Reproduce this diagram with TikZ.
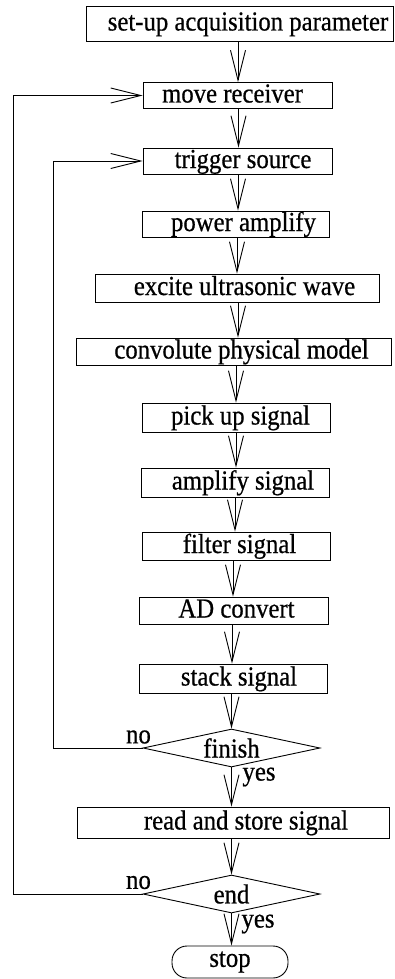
\documentclass[tikz,border=0pt]{standalone}
\usepackage{fontspec}
\setmainfont{Liberation Serif}[FakeStretch=0.9,FakeBold=0.6]
\usetikzlibrary{arrows.meta,shapes.geometric}
\newcommand\tsh[2]{\hspace*{#1}#2\hspace*{-#1}}
\begin{document}
\begin{tikzpicture}[x=1pt,y=-1pt,line width=0.9pt,
  every node/.style={font=\fontsize{27.5}{32}\selectfont},
  box/.style={draw,rectangle,inner sep=0pt,text height=20pt,text depth=6pt},
  dec/.style={draw,diamond,aspect=4.66,inner sep=0pt,minimum width=177pt,minimum height=38pt},
  term/.style={draw,rectangle,rounded corners=15pt,inner sep=0pt,minimum width=116pt,minimum height=32pt},
  arr/.style={-{Straight Barb[length=30pt,width=15pt]}},
  lbl/.style={inner sep=0pt}]
\useasboundingbox (0,0) rectangle (394,979);
\node[box,minimum width=307pt,minimum height=35pt] (setup) at (239.5,23.5) {\tsh{8.5pt}{set-up acquisition parameter}};
\node[box,minimum width=189pt,minimum height=25pt] (move) at (237.5,95.5) {\tsh{-5pt}{move receiver}};
\node[box,minimum width=189pt,minimum height=26pt] (trigger) at (237.5,161) {\tsh{5.5pt}{trigger source}};
\node[box,minimum width=187pt,minimum height=26pt] (power) at (235.5,224) {\tsh{8pt}{power amplify}};
\node[box,minimum width=284pt,minimum height=28pt] (excite) at (237,288) {\tsh{7.5pt}{excite ultrasonic wave}};
\node[box,minimum width=315pt,minimum height=27pt] (conv) at (233.5,351.5) {\tsh{8pt}{convolute physical model}};
\node[box,minimum width=188pt,minimum height=29pt] (pick) at (236,417.5) {\tsh{4.5pt}{pick up signal}};
\node[box,minimum width=188pt,minimum height=29pt] (ampl) at (235,482.5) {\tsh{8pt}{amplify signal}};
\node[box,minimum width=188pt,minimum height=28pt] (filter) at (236,546) {\tsh{3.5pt}{filter signal}};
\node[box,minimum width=189pt,minimum height=27pt] (ad) at (233.5,610.5) {\tsh{3pt}{AD convert}};
\node[box,minimum width=188pt,minimum height=29pt] (stack) at (233,678.5) {\tsh{6pt}{stack signal}};
\node[dec] (finish) at (231.5,748) {finish};
\node[box,minimum width=312pt,minimum height=31pt] (read) at (233,822.5) {\tsh{13pt}{read and store signal}};
\node[dec] (end) at (231.5,894) {end};
\node[term] (stop) at (230,962) {stop};
\node[lbl] (no1) at (138.5,737) {no};
\node[lbl] (yes1) at (259,777) {yes};
\node[lbl] (no2) at (138.5,882.5) {no};
\node[lbl] (yes2) at (258,924) {yes};
\draw[arr] (setup.south -| 238,0) -- (move.north -| 238,0);
\draw[arr] (move.south -| 238.5,0) -- (trigger.north -| 238.5,0);
\draw[arr] (trigger.south -| 238,0) -- (power.north -| 238,0);
\draw[arr] (power.south -| 237,0) -- (excite.north -| 237,0);
\draw[arr] (excite.south -| 238,0) -- (conv.north -| 238,0);
\draw[arr] (conv.south -| 236,0) -- (pick.north -| 236,0);
\draw[arr] (pick.south -| 236,0) -- (ampl.north -| 236,0);
\draw[arr] (ampl.south -| 235,0) -- (filter.north -| 235,0);
\draw[arr] (filter.south -| 233,0) -- (ad.north -| 233,0);
\draw[arr] (ad.south -| 232,0) -- (stack.north -| 232,0);
\draw[arr] (stack.south -| 231.5,0) -- (finish.north);
\draw[arr] (finish.south) -- (read.north -| 231.5,0);
\draw[arr] (read.south -| 231.5,0) -- (end.north);
\draw[arr] (end.south) -- (stop.north -| 231.5,0);
\draw[arr] (finish.west) -- ++(-89,0) |- (trigger.west);
\draw[arr] (end.west) -- ++(-129,0) |- (move.west);
\end{tikzpicture}
\end{document}
